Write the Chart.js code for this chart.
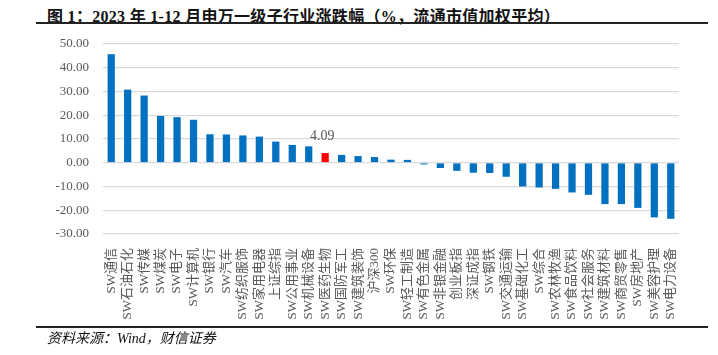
<!DOCTYPE html>
<html>
<head>
<meta charset="utf-8">
<script src="https://cdn.jsdelivr.net/npm/chart.js@4.4.0/dist/chart.umd.min.js"></script>
<style>
  html, body { margin: 0; padding: 0; background: #fff; }
  #wrap { position: relative; width: 718px; height: 355px; overflow: hidden; }
  #title { position: absolute; left: 47px; top: 3px; font-family: "Liberation Serif", "Noto Sans CJK SC", serif; font-weight: bold; font-size: 16px; letter-spacing: 0.3px; color: #111; white-space: nowrap; }
  #tline { position: absolute; left: 36px; top: 22px; width: 672px; height: 2px; background: #222; }
  #bline { position: absolute; left: 36px; top: 326px; width: 672px; height: 1.5px; background: #222; }
  #source { position: absolute; left: 47px; top: 327px; font-family: "Liberation Serif", "Noto Sans CJK SC", serif; font-style: italic; font-size: 14px; color: #111; white-space: nowrap; }
  canvas { position: absolute; left: 0; top: 0; }
</style>
</head>
<body>
<div id="wrap">
  <div id="title">图 1：2023 年 1-12 月申万一级子行业涨跌幅（%，流通市值加权平均）</div>
  <div id="tline"></div>
  <canvas id="c" width="718" height="355"></canvas>
  <div id="bline"></div>
  <div id="source">资料来源：Wind，财信证券</div>
</div>
<script>
const categories = [
  "SW通信","SW石油石化","SW传媒","SW煤炭","SW电子","SW计算机","SW银行","SW汽车",
  "SW纺织服饰","SW家用电器","上证综指","SW公用事业","SW机械设备","SW医药生物","SW国防军工",
  "SW建筑装饰","沪深300","SW环保","SW轻工制造","SW有色金属","SW非银金融","创业板指","深证成指",
  "SW钢铁","SW交通运输","SW基础化工","SW综合","SW农林牧渔","SW食品饮料","SW社会服务",
  "SW建筑材料","SW商贸零售","SW房地产","SW美容护理","SW电力设备"
];
const values = [
  45.7, 30.8, 28.3, 19.7, 19.2, 18.1, 12.0, 11.9,
  11.5, 11.0, 8.9, 7.5, 6.9, 4.09, 3.3,
  2.8, 2.4, 1.3, 1.2, -0.7, -2.2, -3.4, -4.2,
  -4.3, -5.9, -10.0, -10.4, -11.0, -12.5, -13.5,
  -17.4, -17.4, -19.0, -23.0, -23.6
];
const highlightIndex = 13;
const yTicks = { min: -30, max: 50, step: 10 };

const barColors = values.map((v, i) => i === highlightIndex ? "#ff0000" : "#0070c0");

const labelPlugin = {
  id: "hlLabel",
  afterDatasetsDraw(chart) {
    const meta = chart.getDatasetMeta(0);
    const el = meta.data[highlightIndex];
    const ctx = chart.ctx;
    ctx.save();
    ctx.font = '14px "Liberation Serif", serif';
    ctx.fillStyle = "#595959";
    ctx.textAlign = "center";
    ctx.textBaseline = "bottom";
    ctx.fillText(values[highlightIndex].toFixed(2), el.x - 3, el.y - 10);
    ctx.restore();
  }
};

new Chart(document.getElementById("c"), {
  type: "bar",
  data: {
    labels: categories,
    datasets: [{
      data: values,
      backgroundColor: barColors,
      borderWidth: 0,
      barPercentage: 0.44,
      categoryPercentage: 1.0
    }]
  },
  options: {
    responsive: false,
    animation: false,
    events: [],
    layout: { padding: { left: 0, right: 39, top: 44, bottom: 0 } },
    plugins: { legend: { display: false }, tooltip: { enabled: false }, title: { display: false } },
    scales: {
      x: {
        grid: { display: false },
        border: { display: false },
        ticks: {
          autoSkip: false,
          minRotation: 90,
          maxRotation: 90,
          padding: 6,
          color: "#595959",
          font: { family: '"Liberation Serif", "Noto Sans CJK SC", serif', size: 13 }
        },
        afterFit(scale) { scale.height = 121; }
      },
      y: {
        min: yTicks.min,
        max: yTicks.max,
        grid: { color: "#d9d9d9", lineWidth: 1.3, drawTicks: false },
        border: { display: false },
        ticks: {
          stepSize: yTicks.step,
          padding: 14,
          color: "#595959",
          font: { family: '"Liberation Serif", serif', size: 13 },
          callback: v => v.toFixed(2)
        },
        afterFit(scale) { scale.width = 103; }
      }
    }
  },
  plugins: [labelPlugin]
});
</script>
</body>
</html>
